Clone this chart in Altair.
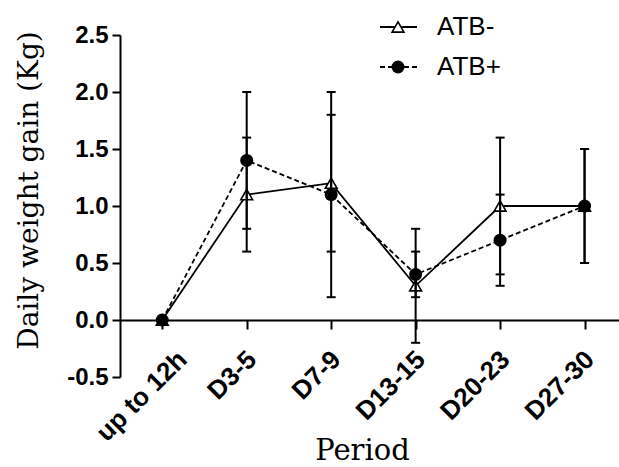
import altair as alt
import pandas as pd

# ---- data ----
periods = ["up to 12h", "D3-5", "D7-9", "D13-15", "D20-23", "D27-30"]
series_names = ["ATB-", "ATB+"]
atb_minus_mean = [0.0, 1.1, 1.2, 0.3, 1.0, 1.0]
atb_minus_err = [0.0, 0.5, 0.6, 0.5, 0.6, 0.5]
atb_plus_mean = [0.0, 1.4, 1.1, 0.4, 0.7, 1.0]
atb_plus_err = [0.0, 0.6, 0.9, 0.2, 0.4, 0.5]
y_ticks = [-0.5, 0.0, 0.5, 1.0, 1.5, 2.0, 2.5]
y_domain = [-0.5, 2.5]

rows = []
for name, means, errs in [
    (series_names[0], atb_minus_mean, atb_minus_err),
    (series_names[1], atb_plus_mean, atb_plus_err),
]:
    for p, m, e in zip(periods, means, errs):
        rows.append({"period": p, "series": name, "mean": m, "err": e,
                     "low": round(m - e, 3), "high": round(m + e, 3)})
df = pd.DataFrame(rows)

W, H = 499, 342
SERIF = "DejaVu Serif"
SANS = "Liberation Sans"

x_enc = alt.X(
    "period:O",
    sort=periods,
    scale=alt.Scale(type="point", domain=periods, range=[0, 506.8], padding=0.5),
    axis=alt.Axis(
        offset=-57,
        domainWidth=2, domainColor="black",
        tickSize=9, tickWidth=2, tickColor="black",
        labelAngle=315, labelAlign="right", labelBaseline="middle",
        labelFont=SANS, labelFontWeight="bold", labelFontSize=26,
        labelColor="black",
        labelPadding=26,
        labelOffset={"condition": {"test": f"datum.value == '{periods[0]}'", "value": 20}, "value": 5},
        labelOverlap=False,
        title="Period", titleFont=SERIF, titleFontSize=29,
        titleFontWeight="normal", titleColor="black",
        titleX=242, titleY=139, titleBaseline="alphabetic",
    ),
)

y_scale = alt.Scale(domain=y_domain, nice=False, zero=False)
y_axis = alt.Axis(
    values=y_ticks,
    labelExpr="datum.value < 0 ? '-' + format(-datum.value, '.1f') : format(datum.value, '.1f')",
    domainWidth=2, domainColor="black",
    tickSize=8, tickWidth=2, tickColor="black",
    labelFont=SANS, labelFontWeight="bold", labelFontSize=24,
    labelColor="black", labelPadding=4, grid=False,
    title="Daily weight gain (Kg)", titleFont=SERIF, titleFontSize=28,
    titleFontWeight="normal", titleColor="black",
    titleX=-91, titleY=155, titleAngle=270, titleBaseline="middle",
)

base = alt.Chart(df)
minus = base.transform_filter(alt.datum.series == series_names[0])
plus = base.transform_filter(alt.datum.series == series_names[1])

line_minus = minus.mark_line(color="black", strokeWidth=1.8).encode(
    x=x_enc, y=alt.Y("mean:Q", scale=y_scale, axis=y_axis)
)
line_plus = plus.mark_line(color="black", strokeWidth=1.8, strokeDash=[5, 3]).encode(
    x="period:O", y="mean:Q"
)

pts_minus = minus.mark_point(
    shape="triangle-up", filled=True, fill="white", stroke="black",
    strokeWidth=1.6, size=140, opacity=1,
).encode(x="period:O", y="mean:Q")

bars = base.transform_filter(alt.datum.err > 0)
err_rule = bars.mark_rule(color="black", strokeWidth=2).encode(
    x="period:O", y="low:Q", y2="high:Q"
)
cap_low = bars.mark_tick(color="black", thickness=2, size=9, opacity=1).encode(
    x="period:O", y="low:Q"
)
cap_high = bars.mark_tick(color="black", thickness=2, size=9, opacity=1).encode(
    x="period:O", y="high:Q"
)

pts_plus = plus.mark_point(
    shape="circle", filled=True, color="black", size=169, opacity=1
).encode(x="period:O", y="mean:Q")

# ---- legend (drawn as marks, top right) ----
legend_df = pd.DataFrame({"series": series_names})
leg = alt.Chart(legend_df)
leg_rows = [(-8, None, "triangle-up"), (32, [5, 3], "circle")]
legend_layers = []
for name, (ly, dash, shape) in zip(series_names, leg_rows):
    d = leg.transform_filter(alt.datum.series == name)
    rule_kwargs = dict(color="black", strokeWidth=1.8)
    if dash is not None:
        rule_kwargs["strokeDash"] = dash
    legend_layers.append(
        d.mark_rule(**rule_kwargs).encode(x=alt.value(260), x2=alt.value(297), y=alt.value(ly))
    )
    if shape == "circle":
        pm = d.mark_point(shape="circle", filled=True, color="black", size=169, opacity=1)
    else:
        pm = d.mark_point(shape="triangle-up", filled=True, fill="white", stroke="black",
                          strokeWidth=1.6, size=140, opacity=1)
    legend_layers.append(pm.encode(x=alt.value(278), y=alt.value(ly)))
    legend_layers.append(
        d.mark_text(align="left", baseline="middle", font=SANS, fontSize=26, color="black")
        .encode(x=alt.value(317), y=alt.value(ly), text="series:N")
    )

chart = alt.layer(
    line_minus, line_plus, pts_minus, err_rule, cap_low, cap_high, pts_plus,
    *legend_layers
).properties(
    width=W, height=H,
    autosize=alt.AutoSizeParams(type="none"),
    padding={"left": 120, "top": 35, "right": 0, "bottom": 90},
    background="white",
).configure_view(stroke=None)

chart.save("out.html", embed_options={"renderer": "svg", "actions": False})
